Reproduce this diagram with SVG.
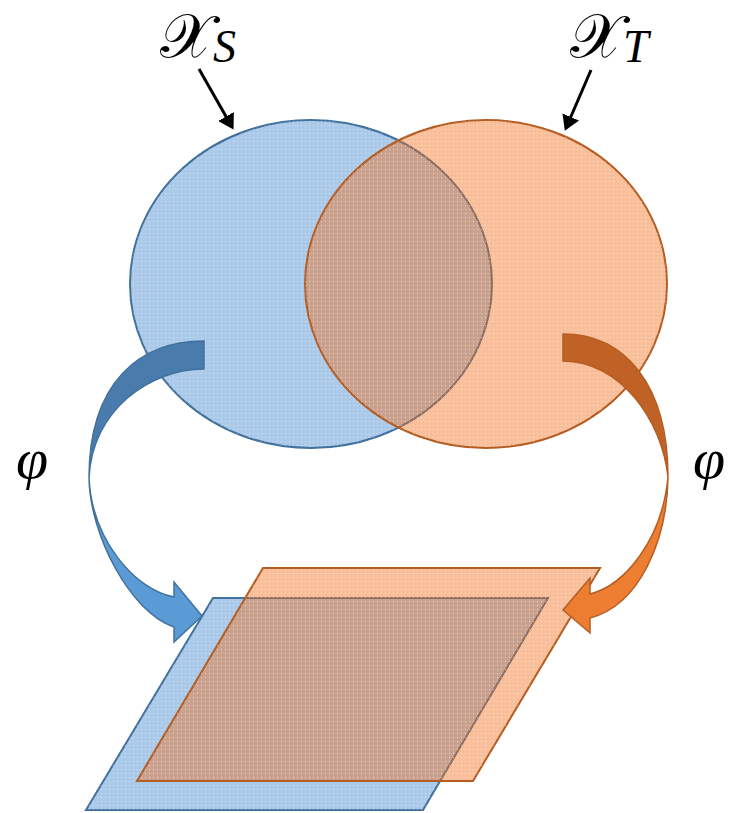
<svg xmlns="http://www.w3.org/2000/svg" width="733" height="813" viewBox="0 0 733 813">
<style>
.bshape{fill:#abcaea;stroke:#41719c;stroke-width:2}
.oshape{fill:#f06b16;fill-opacity:0.43;stroke:#b55d22;stroke-width:2}
.dots{fill:url(#dots);stroke:none}
.bdark{fill:#497cad;stroke:#41719c;stroke-width:1.5;stroke-linejoin:miter}
.blight{fill:#5b9bd5;stroke:#41719c;stroke-width:1.5;stroke-linejoin:miter}
.odark{fill:#c06226;stroke:#b55d22;stroke-width:1.5;stroke-linejoin:miter}
.olight{fill:#ed7d31;stroke:#b55d22;stroke-width:1.5;stroke-linejoin:miter}
.ptr{stroke:#000;stroke-width:3;fill:none;marker-end:url(#ah)}
.cal{font-family:"DejaVu Serif","Liberation Serif",serif;font-size:62px}
.sub{font-family:"Liberation Serif",serif;font-style:italic;font-size:46px}
.phi{font-family:"Liberation Serif",serif;font-style:italic;font-size:58px}
</style>
<defs>
<pattern id="dots" width="4" height="4" patternUnits="userSpaceOnUse">
<rect x="1" y="1" width="1" height="1" fill="#fff" fill-opacity="0.45"/>
</pattern>
<marker id="ah" markerWidth="6" markerHeight="6" refX="4" refY="3" orient="auto" markerUnits="strokeWidth">
<path d="M0,0 L5,3 L0,6 Z" fill="#000"/>
</marker>
</defs>
<g id="source-set">
<ellipse class="bshape" cx="311" cy="284" rx="181" ry="164"/>
<ellipse class="dots" cx="311" cy="284" rx="181" ry="164"/>
</g>
<g id="target-set">
<ellipse class="oshape" cx="486" cy="284" rx="181" ry="164"/>
<ellipse class="dots" cx="486" cy="284" rx="181" ry="164"/>
</g>
<g id="source-plane">
<polygon class="bshape" points="213,598 548,598 423,810 86,810"/>
<polygon class="dots" points="213,598 548,598 423,810 86,810"/>
</g>
<g id="target-plane">
<polygon class="oshape" points="263,568 600,568 473,781 137,781"/>
<polygon class="dots" points="263,568 600,568 473,781 137,781"/>
</g>
<g id="connectors">
<path class="bdark" d="M204,341 C140,341 89,382 89,478 C92,410 150,369 204,369 Z"/>
<path class="blight" d="M89,478 C90,535 130,612 174,627 L174,642 L202,616 L174,582 L174,597 C135,590 92,540 89,478 Z"/>
<path class="odark" d="M563,334 C625,334 668,385 668,477 C662,420 620,361 563,361 Z"/>
<path class="olight" d="M668,477 C667,540 640,605 590,618 L590,633 L563,610 L590,578 L590,594 C625,585 662,540 668,477 Z"/>
<line class="ptr" x1="199" y1="69" x2="232" y2="127"/>
<line class="ptr" x1="591" y1="70" x2="566" y2="128"/>
</g>
<g id="labels">
<text x="160" y="57"><tspan class="cal">𝒳</tspan><tspan class="sub" dy="5">S</tspan></text>
<text x="570" y="57"><tspan class="cal">𝒳</tspan><tspan class="sub" dy="5">T</tspan></text>
<text class="phi" x="16" y="478">φ</text>
<text class="phi" x="693" y="478">φ</text>
</g>
</svg>
